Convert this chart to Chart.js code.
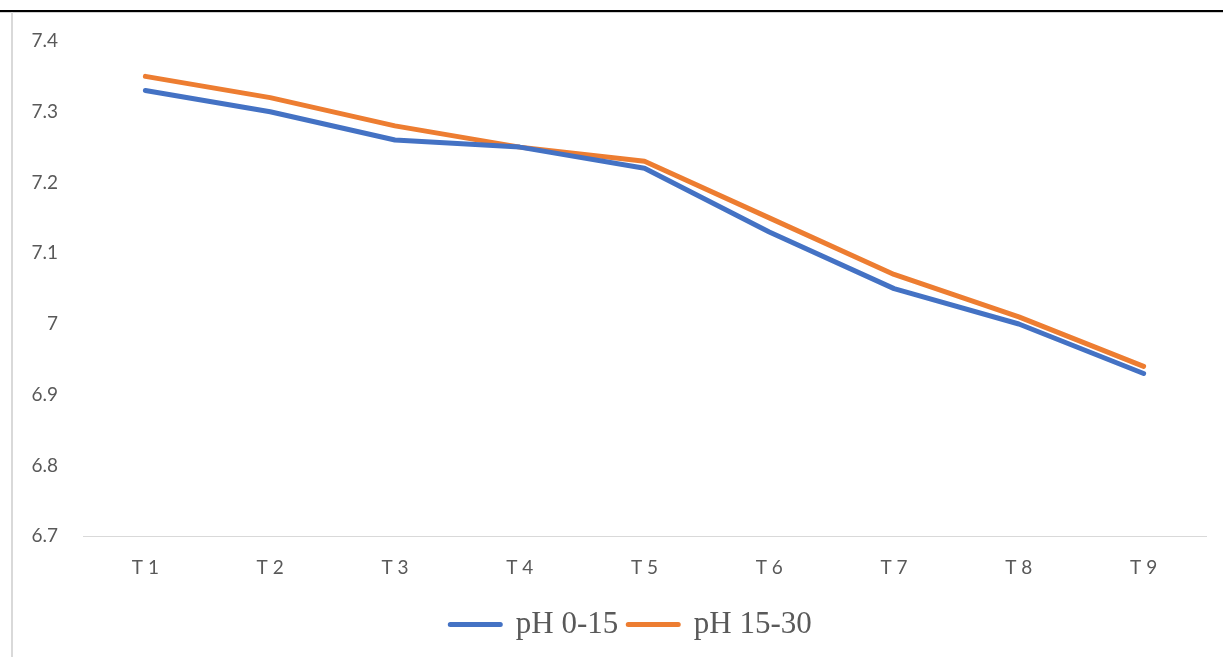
<!DOCTYPE html>
<html>
<head>
<meta charset="utf-8">
<script src="https://cdn.jsdelivr.net/npm/chart.js@4/dist/chart.umd.min.js"></script>
<style>
  html, body { margin: 0; padding: 0; background: #fff; }
  #wrap { position: relative; width: 1223px; height: 657px; overflow: hidden; }
  #topline { position: absolute; left: 0; top: 10px; width: 1223px; height: 2px; background: #000; }
  #topshade { position: absolute; left: 0; top: 12px; width: 1223px; height: 1px; background: #d0d0d0; }
  #leftline { position: absolute; left: 11px; top: 12px; width: 2px; height: 645px; background: #d9d9d9; }
  canvas { position: absolute; left: 0; top: 0; }
</style>
</head>
<body>
<div id="wrap">
  <canvas id="c" width="1223" height="657"></canvas>
  <div id="topline"></div>
  <div id="topshade"></div>
  <div id="leftline"></div>
</div>
<script>
const categories = ["T 1", "T 2", "T 3", "T 4", "T 5", "T 6", "T 7", "T 8", "T 9"];
const seriesNames = ["pH 0-15", "pH 15-30"];
const ph0to15 = [7.33, 7.30, 7.26, 7.25, 7.22, 7.13, 7.05, 7.00, 6.93];
const ph15to30 = [7.35, 7.32, 7.28, 7.25, 7.23, 7.15, 7.07, 7.01, 6.94];
const yTickValues = [6.7, 6.8, 6.9, 7.0, 7.1, 7.2, 7.3, 7.4];
const yTickLabels = ["6.7", "6.8", "6.9", "7", "7.1", "7.2", "7.3", "7.4"];

const blue = "#4472C4";
const orange = "#ED7D31";
const textColor = "#595959";

// nudge the legend box a little to the right (the reference legend is centred slightly right)
const legendShift = {
  id: "legendShift",
  afterLayout(chart) {
    const lg = chart.legend;
    if (lg) {
      lg.left += 14;
      lg.right += 14;
      if (lg.adjustHitBoxes) lg.adjustHitBoxes();
    }
  }
};

new Chart(document.getElementById("c"), {
  type: "line",
  data: {
    labels: categories,
    datasets: [
      { label: seriesNames[0], data: ph0to15, borderColor: blue, backgroundColor: blue,
        borderWidth: 5, pointRadius: 0, tension: 0, borderCapStyle: "round", borderJoinStyle: "round" },
      { label: seriesNames[1], data: ph15to30, borderColor: orange, backgroundColor: orange,
        borderWidth: 5, pointRadius: 0, tension: 0, borderCapStyle: "round", borderJoinStyle: "round" }
    ]
  },
  plugins: [legendShift],
  options: {
    responsive: false,
    animation: false,
    layout: { padding: { left: 28, right: 17, top: 41, bottom: 7 } },
    plugins: {
      tooltip: { enabled: false },
      legend: {
        position: "bottom",
        labels: {
          boxWidth: 50,
          boxHeight: 0,
          padding: 10,
          color: textColor,
          font: { family: "'Liberation Serif', 'Times New Roman', serif", size: 31 }
        }
      }
    },
    scales: {
      x: {
        offset: true,
        grid: { display: false, drawTicks: false },
        border: { display: true, color: "#d9d9d9", width: 1 },
        ticks: { color: textColor, padding: 20, font: { family: "Lato, 'Open Sans', sans-serif", size: 19 } }
      },
      y: {
        min: 6.7,
        max: 7.4,
        afterBuildTicks: (scale) => { scale.ticks = yTickValues.map(v => ({ value: v })); },
        afterFit: (scale) => { scale.width = 55; },
        grid: { display: false, drawTicks: false },
        border: { display: false },
        ticks: {
          color: textColor,
          padding: 25,
          font: { family: "Lato, 'Open Sans', sans-serif", size: 19 },
          callback: (value, index) => yTickLabels[index]
        }
      }
    }
  }
});
</script>
</body>
</html>
